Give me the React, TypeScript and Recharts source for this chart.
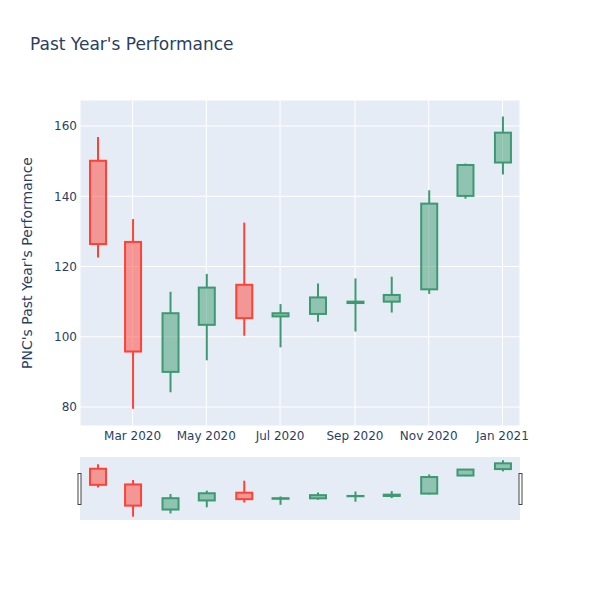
import React from 'react';
import {
  ComposedChart,
  Bar,
  XAxis,
  YAxis,
  CartesianGrid,
} from 'recharts';

// monthly candles, PNC, Feb 2020 - Jan 2021
const MONTHS: string[] = [
  '2020-02-01', '2020-03-01', '2020-04-01', '2020-05-01', '2020-06-01', '2020-07-01',
  '2020-08-01', '2020-09-01', '2020-10-01', '2020-11-01', '2020-12-01', '2021-01-01',
];
const OPEN: number[] = [150.1, 127.0, 90.0, 103.4, 114.8, 105.8, 106.5, 109.6, 110.0, 113.5, 140.1, 149.6];
const HIGH: number[] = [156.9, 133.5, 112.8, 117.9, 132.5, 109.3, 115.2, 116.6, 117.1, 141.7, 149.3, 162.7];
const LOW: number[] = [122.6, 79.5, 84.2, 93.3, 100.3, 97.0, 104.3, 101.5, 106.9, 112.2, 139.3, 146.2];
const CLOSE: number[] = [126.4, 95.8, 106.7, 114.0, 105.3, 106.7, 111.2, 110.0, 111.9, 137.9, 148.9, 158.1];

const X_TICKS: string[] = ['2020-03-01', '2020-05-01', '2020-07-01', '2020-09-01', '2020-11-01', '2021-01-01'];
const X_TICK_LABELS: string[] = ['Mar 2020', 'May 2020', 'Jul 2020', 'Sep 2020', 'Nov 2020', 'Jan 2021'];
const Y_TICKS: number[] = [80, 100, 120, 140, 160];
const Y_DOMAIN: [number, number] = [74.6, 167.4];

const DAY = 86400000;
const toTime = (s: string) => new Date(s + 'T00:00:00Z').getTime();

const data = MONTHS.map((m, i) => ({
  t: toTime(m),
  open: OPEN[i],
  high: HIGH[i],
  low: LOW[i],
  close: CLOSE[i],
}));

const xTicks = X_TICKS.map(toTime);
const xDomain: [number, number] = [data[0].t - 14.5 * DAY, data[data.length - 1].t + 14.5 * DAY];

const UP = '#3D9970';
const DOWN = '#FF4136';
const TEXT = '#2a3f5f';
const BG = '#e5ecf6';

const Candle = (props: any) => {
  const { x, y, width, height, payload } = props;
  if (!payload) return null;
  const top = Math.min(y, y + height);
  const h = Math.abs(height);
  const { open, close, high, low } = payload;
  const py = (v: number) => top + ((high - v) / (high - low)) * h;
  const up = close >= open;
  const stroke = up ? UP : DOWN;
  const fill = up ? 'rgba(61,153,112,0.5)' : 'rgba(255,65,54,0.5)';
  const cx = x + width / 2;
  const bodyTop = py(Math.max(open, close));
  const bodyBot = py(Math.min(open, close));
  return (
    <g>
      <line x1={cx} x2={cx} y1={top} y2={bodyTop} stroke={stroke} strokeWidth={2} />
      <line x1={cx} x2={cx} y1={bodyBot} y2={top + h} stroke={stroke} strokeWidth={2} />
      <rect
        x={x + 1}
        y={bodyTop}
        width={width - 2}
        height={Math.max(bodyBot - bodyTop, 0)}
        fill={fill}
        stroke={stroke}
        strokeWidth={2}
      />
    </g>
  );
};

const range = (d: any) => [d.low, d.high];

export default function App() {
  return (
    <div style={{ position: 'absolute', left: 0, top: 0, width: 600, height: 600, background: '#fff', fontFamily: '"DejaVu Sans", sans-serif' }}>
      <div style={{ position: 'absolute', left: 0, top: 0 }}>
        <ComposedChart width={600} height={460} data={data} margin={{ top: 100, right: 80, bottom: 4, left: 0 }}>
          <CartesianGrid stroke="#fff" strokeWidth={1} fill={BG} fillOpacity={1} />
          <XAxis
            type="number"
            dataKey="t"
            domain={xDomain}
            ticks={xTicks}
            allowDataOverflow
            height={30}
            tickLine={false}
            axisLine={false}
            tickSize={0}
            tickMargin={5}
            tick={{ fill: TEXT, fontSize: 12 }}
            tickFormatter={(v: number) => X_TICK_LABELS[xTicks.indexOf(v)] ?? ''}
          />
          <YAxis
            type="number"
            domain={Y_DOMAIN}
            ticks={Y_TICKS}
            allowDataOverflow
            width={80}
            tickLine={false}
            axisLine={false}
            tickSize={0}
            tickMargin={3}
            tick={{ fill: TEXT, fontSize: 12 }}
          />
          <Bar dataKey={range} barSize={18} shape={Candle} isAnimationActive={false} />
        </ComposedChart>
      </div>
      <div style={{ position: 'absolute', left: 0, top: 450 }}>
        <ComposedChart width={600} height={75} data={data} margin={{ top: 7, right: 80, bottom: 5, left: 80 }}>
          <CartesianGrid stroke="none" horizontal={false} vertical={false} fill={BG} fillOpacity={1} />
          <XAxis type="number" dataKey="t" domain={xDomain} allowDataOverflow hide />
          <YAxis type="number" domain={Y_DOMAIN} allowDataOverflow hide />
          <Bar dataKey={range} barSize={18} shape={Candle} isAnimationActive={false} />
        </ComposedChart>
      </div>
      <svg width={600} height={600} style={{ position: 'absolute', left: 0, top: 0, pointerEvents: 'none' }}>
        <text x={30} y={50} fontSize={17} fill={TEXT}>Past Year's Performance</text>
        <text x={32} y={263} fontSize={14} fill={TEXT} textAnchor="middle" transform="rotate(-90 32 263)">
          PNC's Past Year's Performance
        </text>
        <rect x={78} y={473.5} width={3} height={31} fill="#fff" stroke="#444" strokeWidth={1} />
        <rect x={519} y={473.5} width={3} height={31} fill="#fff" stroke="#444" strokeWidth={1} />
      </svg>
    </div>
  );
}
